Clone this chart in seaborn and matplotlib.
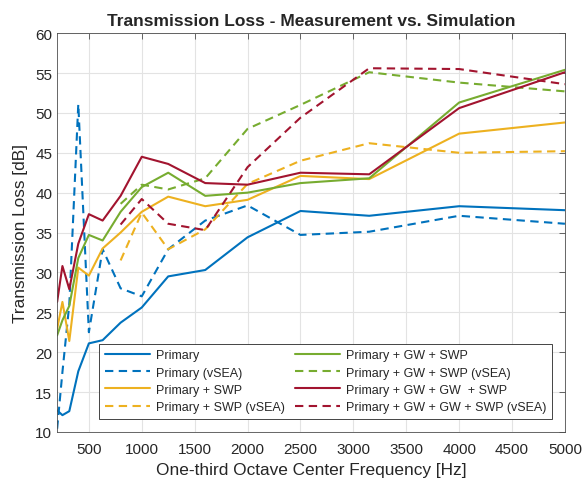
import numpy as np
import pandas as pd
import matplotlib
matplotlib.use("Agg")
import matplotlib.pyplot as plt
from matplotlib.lines import Line2D
import seaborn as sns

# =========================
# Data
# =========================
freq_full = [200, 250, 315, 400, 500, 630, 800, 1000, 1250, 1600, 2000, 2500, 3150, 4000, 5000]
freq_sim = [800, 1000, 1250, 1600, 2000, 2500, 3150, 4000, 5000]

primary = [12.7, 12.1, 12.6, 17.6, 21.1, 21.5, 23.7, 25.6, 29.5, 30.3, 34.4, 37.7, 37.1, 38.3, 37.8]
primary_vsea = [10.4, 17.5, 26.0, 51.1, 22.5, 32.9, 28.0, 27.0, 32.9, 36.5, 38.4, 34.7, 35.1, 37.1, 36.1]
swp = [22.9, 26.3, 21.4, 30.6, 29.6, 33.0, 35.0, 37.6, 39.5, 38.3, 39.1, 42.1, 41.7, 47.4, 48.8]
swp_vsea = [31.5, 37.5, 32.9, 35.4, 41.1, 44.0, 46.2, 45.0, 45.2]
gw_swp = [22.1, 24.0, 25.8, 31.8, 34.7, 34.0, 37.6, 40.7, 42.5, 39.6, 40.0, 41.2, 41.8, 51.3, 55.4]
gw_swp_vsea = [38.6, 41.0, 40.4, 41.8, 48.0, 51.0, 55.1, 53.8, 52.7]
gwgw_swp = [26.3, 30.8, 27.9, 33.6, 37.3, 36.5, 39.6, 44.5, 43.6, 41.2, 41.0, 42.5, 42.3, 50.6, 55.1]
gwgw_swp_vsea = [36.0, 39.2, 36.1, 35.3, 43.2, 49.4, 55.6, 55.5, 53.6]

labels = [
    "Primary", "Primary (vSEA)",
    "Primary + SWP", "Primary + SWP (vSEA)",
    "Primary + GW + SWP", "Primary + GW + SWP (vSEA)",
    "Primary + GW + GW  + SWP", "Primary + GW + GW + SWP (vSEA)",
]

# MATLAB default colours
blue = (0, 0.447, 0.741)
yellow = (0.929, 0.694, 0.125)
green = (0.466, 0.674, 0.188)
red = (0.635, 0.078, 0.184)

series = [
    (freq_full, primary, blue, "-"),
    (freq_full, primary_vsea, blue, "--"),
    (freq_full, swp, yellow, "-"),
    (freq_sim, swp_vsea, yellow, "--"),
    (freq_full, gw_swp, green, "-"),
    (freq_sim, gw_swp_vsea, green, "--"),
    (freq_full, gwgw_swp, red, "-"),
    (freq_sim, gwgw_swp_vsea, red, "--"),
]

# =========================
# Style
# =========================
sns.set_style("white")
plt.rcParams["font.family"] = ["Liberation Sans", "DejaVu Sans"]

fig, ax = plt.subplots(figsize=(5.83, 4.81), dpi=100)
fig.subplots_adjust(left=0.098, right=0.969, bottom=0.100, top=0.929)

handles = []
for (x, y, c, ls), lab in zip(series, labels):
    df = pd.DataFrame({"f": x, "tl": y})
    sns.lineplot(data=df, x="f", y="tl", ax=ax, color=c, linewidth=1.5,
                 linestyle=ls, errorbar=None, legend=False)
    handles.append(Line2D([], [], color=c, linewidth=1.5, linestyle=ls, label=lab))

for line in list(ax.get_lines()) + handles:
    if line.get_linestyle() == "--":
        line.set_dashes((4, 2.6))

ax.set_xlim(200, 5000)
ax.set_ylim(10, 60)
ax.set_xticks(np.arange(500, 5001, 500))
ax.set_yticks(np.arange(10, 61, 5))
ax.grid(True, color="#e3e3e3", linewidth=0.8)
ax.set_axisbelow(True)

for s in ax.spines.values():
    s.set_color("#4d4d4d")
    s.set_linewidth(0.6)
ax.tick_params(direction="in", length=4, width=0.6, colors="#4d4d4d",
               labelsize=11, top=True, right=True, labelcolor="#262626")
ax.tick_params(axis="x", pad=7.5)

ax.set_title("Transmission Loss - Measurement vs. Simulation",
             fontsize=12.5, fontweight="bold", pad=6)
ax.set_xlabel("One-third Octave Center Frequency [Hz]", fontsize=12.4, color="#262626", labelpad=4)
ax.set_ylabel("Transmission Loss [dB]", fontsize=12.4, color="#262626", labelpad=5)

leg = ax.legend(handles=handles, ncol=2, loc="lower right",
                bbox_to_anchor=(0.974, 0.033), borderaxespad=0, fontsize=9,
                frameon=True, fancybox=False, framealpha=1,
                edgecolor="#262626", handlelength=3.6, labelspacing=0.42,
                columnspacing=0.8, handletextpad=0.48, borderpad=0.45)
leg.get_frame().set_linewidth(0.6)

plt.savefig("out.png", dpi=100)
